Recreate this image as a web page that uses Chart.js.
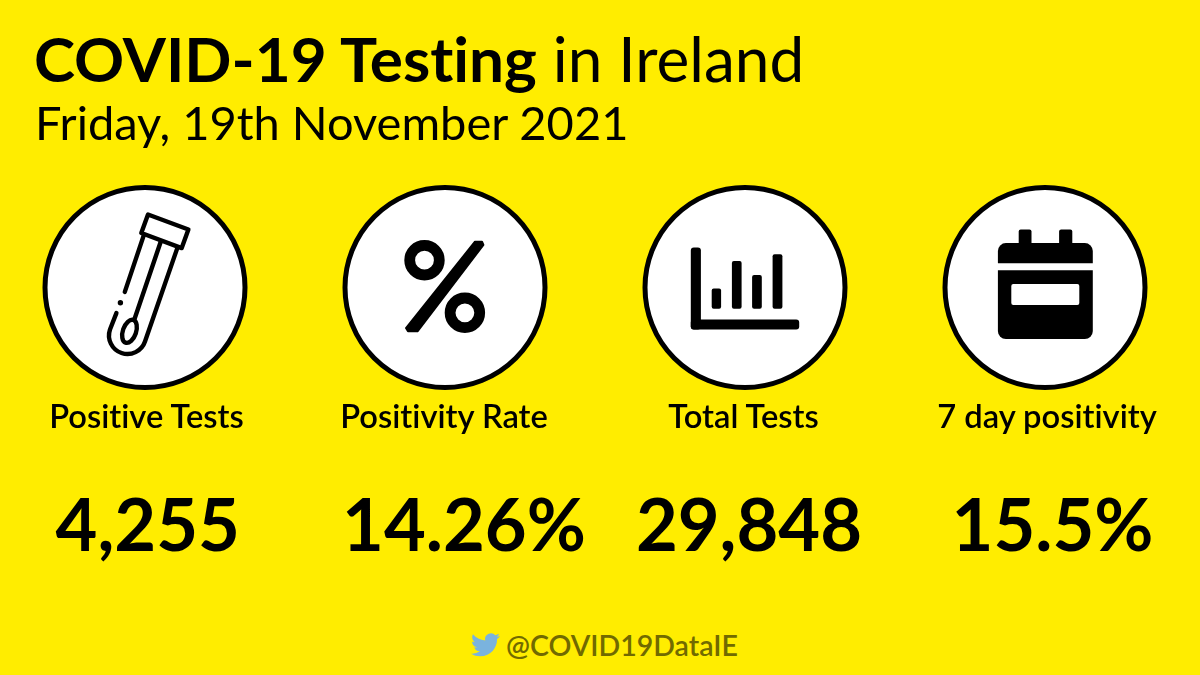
<!DOCTYPE html>
<html><head><meta charset="utf-8">
<style>
html,body{margin:0;padding:0;background:#FFED00;width:1200px;height:675px;overflow:hidden}
body{position:relative;font-family:Lato,sans-serif;color:#000;font-variant-ligatures:none}
#wrap{position:absolute;left:-5px;top:-0.5px;width:1200px;height:575px}
.t{position:absolute;white-space:nowrap;line-height:1}
.c{transform:translateX(-50%)}
#title{left:34px;top:27px;font-size:62.1px}
#title b{font-weight:700}
#sub{left:35px;top:99px;font-size:47px}
.lab{top:400px;font-size:32.7px;font-weight:600}
.val{top:486.5px;font-size:72.2px;font-weight:700}
#hand{left:506px;top:630.5px;font-size:28.5px;font-weight:600;color:#716A00}
#bird{position:absolute;left:471px;top:633px;width:29px;height:26px}
</style></head><body>
<div id="wrap"><canvas id="c"></canvas></div>
<div class="t" id="title"><b>COVID-19 Testing</b> in Ireland</div>
<div class="t" id="sub">Friday, 19th November 2021</div>
<div id="texts"></div>
<svg id="bird" viewBox="0 0 24 22" preserveAspectRatio="none"><path transform="translate(0,-2)" fill="#7AB3DE" d="M23.953 4.57a10 10 0 01-2.825.775 4.958 4.958 0 002.163-2.723c-.951.555-2.005.959-3.127 1.184a4.92 4.92 0 00-8.384 4.482C7.69 8.095 4.067 6.13 1.64 3.162a4.822 4.822 0 00-.666 2.475c0 1.71.87 3.213 2.188 4.096a4.904 4.904 0 01-2.228-.616v.06a4.923 4.923 0 003.946 4.827 4.996 4.996 0 01-2.212.085 4.936 4.936 0 004.604 3.417 9.867 9.867 0 01-6.102 2.105c-.39 0-.779-.023-1.17-.067a13.995 13.995 0 007.557 2.209c9.053 0 13.998-7.496 13.998-13.985 0-.21 0-.42-.015-.63A9.935 9.935 0 0024 4.59z"/></svg>
<div class="t" id="hand">@COVID19DataIE</div>
<script src="https://cdn.jsdelivr.net/npm/chart.js@4"></script>
<script>
const categories = ['Positive Tests','Positivity Rate','Total Tests','7 day positivity'];
const valueLabels = ['4,255','14.26%','29,848','15.5%'];
const rowLabels = ['KPI'];

const labelCentres = [146.5,444,743.5,1047];
const valueCentres = [147.8,464,749,1052.5];
const host = document.getElementById('texts');
categories.forEach((c,i)=>{
  const a=document.createElement('div');a.className='t c lab';a.textContent=c;a.style.left=labelCentres[i]+'px';host.appendChild(a);
  const b=document.createElement('div');b.className='t c val';b.textContent=valueLabels[i];b.style.left=valueCentres[i]+'px';host.appendChild(b);
});

function rr(ctx,x0,y0,x1,y1,r){ctx.beginPath();ctx.roundRect(x0,y0,x1-x0,y1-y0,r);ctx.fill();}
const icons = [
 function tube(ctx){ // origin: circle centre
  ctx.lineWidth=4.4;ctx.lineCap='round';ctx.lineJoin='round';
  const L=(a,b,c,d)=>{ctx.beginPath();ctx.moveTo(a,b);ctx.lineTo(c,d);ctx.stroke();};
  ctx.beginPath();ctx.moveTo(3,-73);ctx.lineTo(43.4,-58);ctx.lineTo(36.7,-39.4);ctx.lineTo(-3.7,-54.5);ctx.closePath();ctx.stroke();
  L(-1,-52.9,-20.2,4.4);
  L(15.8,-46,-10.4,31.3);
  ctx.beginPath();ctx.moveTo(32.3,-39.4);ctx.lineTo(0,54);ctx.arc(-17.5,48,18.5,0.33,Math.PI+0.33,false);ctx.lineTo(-28.6,25.6);ctx.stroke();
  ctx.fillStyle='#000';ctx.beginPath();ctx.arc(-24.6,15.2,2.7,0,7);ctx.fill();
  ctx.beginPath();ctx.ellipse(-15.5,43.8,6.6,12,0.33,0,7);ctx.stroke();
 },
 function pct(ctx){
  ctx.lineWidth=10.8;
  ctx.beginPath();ctx.arc(-20.5,-27.3,14.8,0,7);ctx.stroke();
  ctx.beginPath();ctx.arc(19.9,25.3,14.8,0,7);ctx.stroke();
  ctx.fillStyle='#000';ctx.lineWidth=2;ctx.lineJoin='round';
  ctx.beginPath();ctx.moveTo(30,-45.8);ctx.lineTo(37,-45.8);ctx.lineTo(38.4,-42.5);ctx.lineTo(-27.5,43.8);ctx.lineTo(-37,43.8);ctx.lineTo(-39,40.5);ctx.closePath();ctx.fill();ctx.stroke();
 },
 function bars(ctx){
  rr(ctx,-54.2,-40,-44.1,42.1,3);
  rr(ctx,-54.2,32,54.2,42.1,3);
  rr(ctx,-33.3,1,-23.9,21.2,2);
  rr(ctx,-13.1,-26.6,-3.4,21.2,2);
  rr(ctx,7.1,-12.5,16.8,21.2,2);
  rr(ctx,27.6,-33.3,37.4,21.2,2);
 },
 function cal(ctx){
  ctx.beginPath();ctx.roundRect(-47.1,-44.4,94.9,20.2,[8,8,0,0]);ctx.fill();
  ctx.beginPath();ctx.roundRect(-47.1,-17.2,94.9,68.7,[0,0,8,8]);ctx.fill();
  rr(ctx,-26.3,-57.9,-13.5,-43,2);
  rr(ctx,14.1,-57.9,27.3,-43,2);
  ctx.fillStyle='#fff';rr(ctx,-33.7,-3.4,34.3,17.5,2);
 }
];
const iconPlugin = {id:'icons',afterDatasetsDraw(chart){
  const ctx=chart.ctx,meta=chart.getDatasetMeta(0);
  meta.data.forEach((p,i)=>{
    ctx.save();ctx.translate(p.x,p.y);ctx.fillStyle='#000';ctx.strokeStyle='#000';icons[i](ctx);ctx.restore();
  });
}};
new Chart(document.getElementById('c'),{
  type:'line',
  data:{labels:categories,datasets:[{
    data:categories.map(c=>({x:c,y:rowLabels[0]})),
    showLine:false,pointRadius:100,pointHoverRadius:100,pointBorderWidth:5,
    pointBackgroundColor:'#fff',pointBorderColor:'#000',clip:false
  }]},
  options:{
    responsive:true,maintainAspectRatio:false,animation:false,
    layout:{padding:0,autoPadding:false},
    plugins:{legend:{display:false},title:{display:false},tooltip:{enabled:false}},
    scales:{
      x:{type:'category',offset:true,display:false},
      y:{type:'category',labels:rowLabels,offset:true,display:false}
    }
  },
  plugins:[iconPlugin]
});
</script>
</body></html>
